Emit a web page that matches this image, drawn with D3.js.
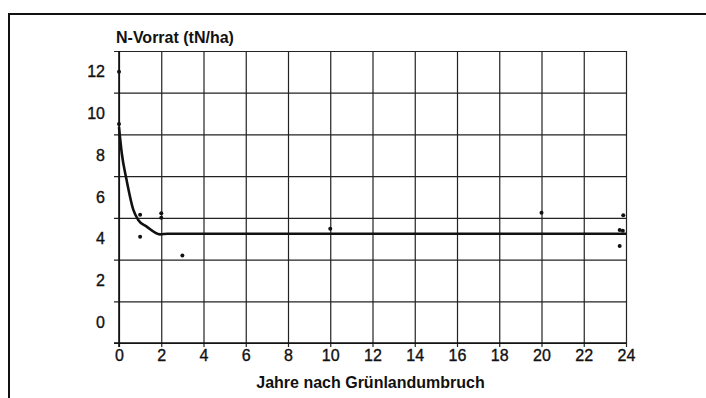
<!DOCTYPE html>
<html>
<head>
<meta charset="utf-8">
<script src="https://cdn.jsdelivr.net/npm/d3@7"></script>
<style>
  html, body { margin: 0; padding: 0; background: #fff; }
  svg { display: block; }
  text { font-family: "Liberation Sans", Arial, Helvetica, sans-serif; fill: #111; }
</style>
</head>
<body>
<svg id="chart" width="706" height="398"></svg>
<script>
// Measured soil nitrogen stock (t N/ha) by years since grassland conversion
const sampleYears = [0, 0, 1, 1, 2, 2, 3, 10, 20, 23.87, 23.7, 23.85, 23.7];
const sampleN     = [12.0, 9.5, 5.15, 4.1, 5.22, 5.01, 3.19, 4.48, 5.25, 5.12, 4.42, 4.38, 3.65];

// Fitted decline curve
const fitYears = [0, 0.13, 0.36, 0.68, 0.91, 1.31, 1.94, 2.3, 24];
const fitN     = [9.35, 8.11, 6.81, 5.38, 4.9, 4.58, 4.21, 4.24, 4.24];

// Axis ticks
const xTicks = [0, 2, 4, 6, 8, 10, 12, 14, 16, 18, 20, 22, 24];
const yLabelTicks = [0, 2, 4, 6, 8, 10, 12];
const yGridTicks = [-1, 1, 3, 5, 7, 9, 11, 13];

const yTitle = "N-Vorrat (tN/ha)";
const xTitle = "Jahre nach Grünlandumbruch";

const svg = d3.select("#chart");
const plotL = 119, plotR = 626, plotT = 51, plotB = 343;

const x = d3.scaleLinear().domain([0, 24]).range([plotL, plotR]);
const y = d3.scaleLinear().domain([-1, 13]).range([plotB, plotT]);

// outer frame
svg.append("path")
  .attr("d", "M9,398V14H706")
  .attr("fill", "none")
  .attr("stroke", "#111")
  .attr("stroke-width", 2);

// horizontal grid lines (with short tick stubs left of the axis)
const gy = svg.append("g")
  .attr("transform", `translate(${plotL - 5},0)`)
  .call(d3.axisLeft(y).tickValues(yGridTicks).tickSize(-(plotR - plotL + 5)).tickFormat(""));
gy.select(".domain").remove();
gy.selectAll(".tick line").attr("stroke", "#222").attr("stroke-width", 1.2);

// vertical grid lines (with tick stubs below the axis)
const gx = svg.append("g")
  .attr("transform", `translate(0,${plotB + 4})`)
  .call(d3.axisBottom(x).tickValues(xTicks).tickSize(-(plotB + 4 - plotT)).tickFormat(""));
gx.select(".domain").remove();
gx.selectAll(".tick line").attr("stroke", "#222").attr("stroke-width", 1.2);

// axis lines
svg.append("line").attr("x1", plotL).attr("x2", plotL).attr("y1", plotT).attr("y2", plotB + 4)
  .attr("stroke", "#111").attr("stroke-width", 1.6);
svg.append("line").attr("x1", plotL - 5).attr("x2", plotR).attr("y1", plotB).attr("y2", plotB)
  .attr("stroke", "#111").attr("stroke-width", 1.6);

// y labels
const ly = svg.append("g")
  .attr("transform", `translate(${plotL},0)`)
  .call(d3.axisLeft(y).tickValues(yLabelTicks).tickSize(0).tickPadding(14));
ly.select(".domain").remove();
ly.selectAll("text")
  .attr("font-size", 16).attr("font-family", "Liberation Sans, Arial, sans-serif")
  .attr("fill", "#111").attr("stroke", "#111").attr("stroke-width", 0.35);

// x labels
const lx = svg.append("g")
  .attr("transform", `translate(0,${plotB})`)
  .call(d3.axisBottom(x).tickValues(xTicks).tickSize(0).tickPadding(7));
lx.select(".domain").remove();
lx.selectAll("text")
  .attr("font-size", 16).attr("font-family", "Liberation Sans, Arial, sans-serif")
  .attr("fill", "#111").attr("stroke", "#111").attr("stroke-width", 0.35);

// titles
svg.append("text")
  .attr("x", 116).attr("y", 43)
  .attr("font-size", 16).attr("font-weight", "bold")
  .text(yTitle);
svg.append("text")
  .attr("x", (plotL + plotR) / 2 - 2).attr("y", 388)
  .attr("text-anchor", "middle")
  .attr("font-size", 16).attr("font-weight", "bold")
  .text(xTitle);

// fitted curve
const fit = fitYears.map((t, i) => [t, fitN[i]]);
svg.append("path")
  .datum(fit)
  .attr("fill", "none")
  .attr("stroke", "#111")
  .attr("stroke-width", 2.6)
  .attr("stroke-linejoin", "round")
  .attr("d", d3.line().x(d => x(d[0])).y(d => y(d[1])).curve(d3.curveMonotoneX));

// sample points
svg.append("g").selectAll("circle")
  .data(sampleYears.map((t, i) => [t, sampleN[i]]))
  .join("circle")
  .attr("cx", d => x(d[0]))
  .attr("cy", d => y(d[1]))
  .attr("r", 2)
  .attr("fill", "#111");
</script>
</body>
</html>
